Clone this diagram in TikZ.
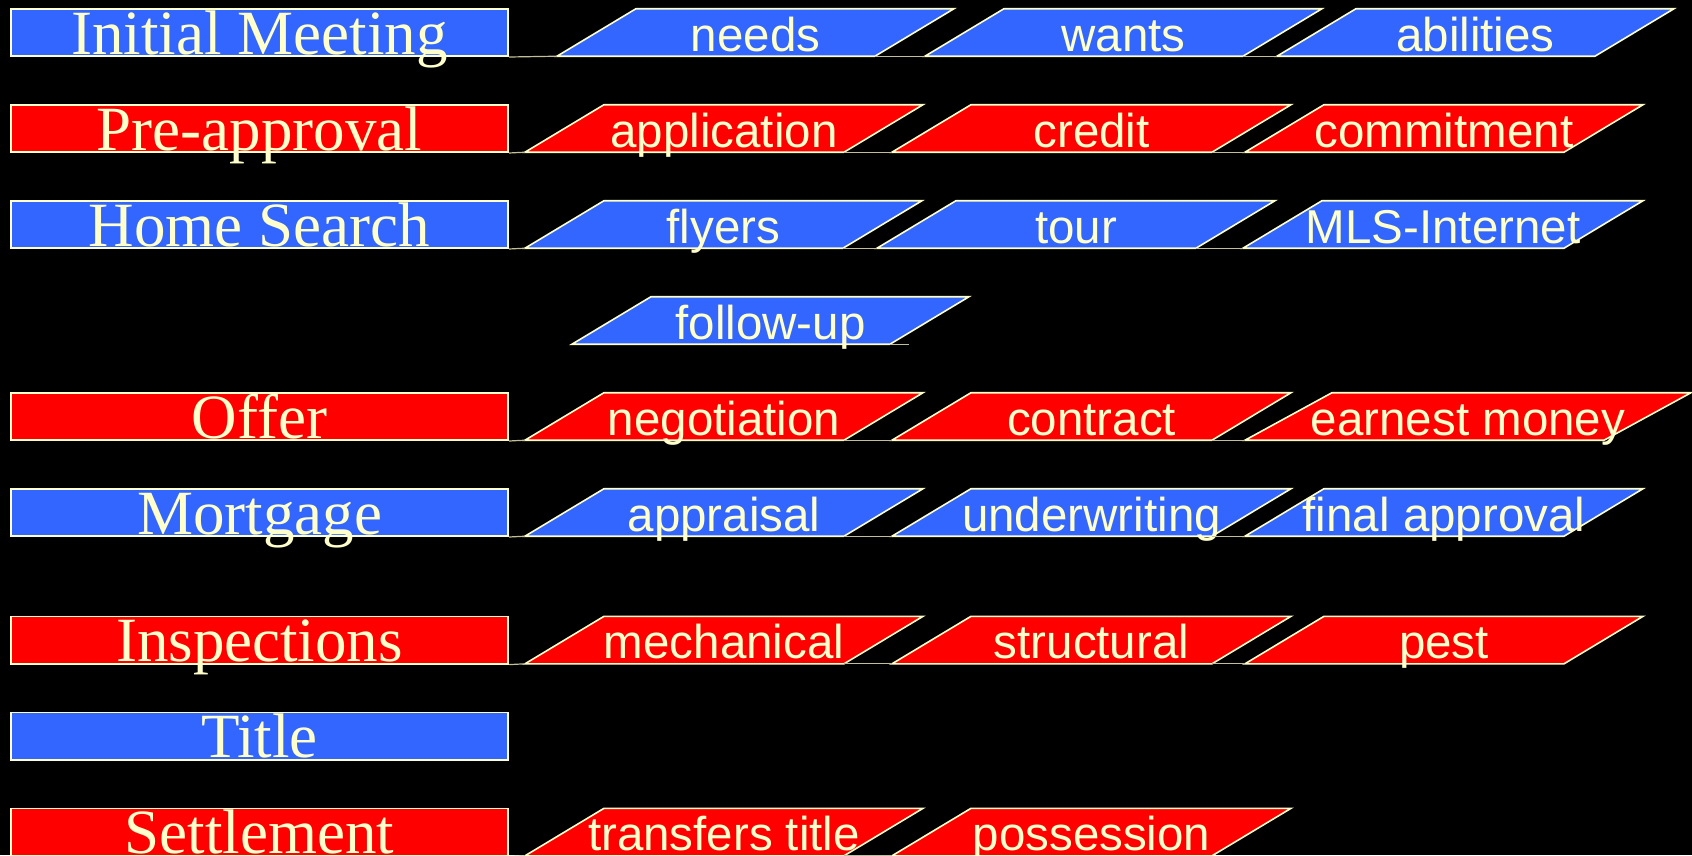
\documentclass[tikz,border=0pt]{standalone}
\usepackage{fontspec}
\setmainfont{Liberation Serif}
\setsansfont{Liberation Sans}
\definecolor{cream}{HTML}{FFFFCC}
\definecolor{stepblue}{HTML}{3366FF}
\definecolor{stepred}{HTML}{FF0000}

\tikzset{
  edge/.style={draw=cream, line width=1.6pt, line join=miter},
  stage/.style={draw=cream, line width=1.6pt, minimum width=497.5pt,
    minimum height=47.5pt, inner sep=0pt, text height=45.5pt, text depth=2pt,
    text=cream, font=\fontsize{63}{63}\selectfont},
  tasklabel/.style={anchor=base, inner sep=0pt, text=cream,
    font=\sffamily\fontsize{47.5}{47.5}\selectfont},
  link/.style={draw=cream!75!black, line width=1.2pt},
}

% slanted task box: [slant] name, bottom-left x, bottom y, bottom width, fill, text
\newcommand\task[7][79]{%
  \filldraw[edge, fill=#6] (#3,#4) coordinate (#2-bl) -- ++(#5,0) coordinate (#2-br)
    -- ++(#1,-47.5) -- ++(-#5,0) -- cycle;
  \node[tasklabel] (#2) at ({#3+#5/2+#1/2},{#4-5}) {#7};
}

\begin{document}
\begin{tikzpicture}[x=1pt, y=-1pt]
\useasboundingbox (0,0) rectangle (1692,855);
\fill[black] (0,0) rectangle (1692,855);

% stages
\node[stage, fill=stepblue] (initial) at (259.5,32.45)  {Initial Meeting};
\node[stage, fill=stepred]  (preapp)  at (259.5,128.45) {Pre-approval};
\node[stage, fill=stepblue] (search)  at (259.5,224.45) {Home Search};
\node[stage, fill=stepred]  (offer)   at (259.5,416.45) {Offer};
\node[stage, fill=stepblue] (mortg)   at (259.5,512.45) {Mortgage};
\node[stage, fill=stepred]  (inspect) at (259.5,640.05) {Inspections};
\node[stage, fill=stepblue] (title)   at (259.5,736.05) {Title};
\node[stage, fill=stepred]  (settle)  at (259.5,832.05) {Settlement};

% tasks
\task{needs}{557}{56.2}{318}{stepblue}{needs}
\task{wants}{925}{56.2}{318}{stepblue}{wants}
\task{abil}{1277}{56.2}{318}{stepblue}{abilities}

\task{appl}{525}{152.2}{319}{stepred}{application}
\task{credit}{892}{152.2}{320}{stepred}{credit}
\task{commit}{1245}{152.2}{319}{stepred}{commitment}

\task{flyers}{525}{248.2}{318}{stepblue}{flyers}
\task{tour}{877}{248.2}{319}{stepblue}{tour}
\task{mls}{1243}{248.2}{321}{stepblue}{MLS-Internet}

\task{follow}{572}{344.2}{318}{stepblue}{follow-up}

\task{negot}{525}{440.2}{319}{stepred}{negotiation}
\task{contract}{892}{440.2}{320}{stepred}{contract}
\task[87]{earnest}{1245}{440.2}{359}{stepred}{earnest money}

\task{apprais}{525}{536.2}{319}{stepblue}{appraisal}
\task{underw}{892}{536.2}{320}{stepblue}{underwriting}
\task{final}{1245}{536.2}{319}{stepblue}{final approval}

\task{mech}{525}{663.8}{319}{stepred}{mechanical}
\task{struct}{892}{663.8}{320}{stepred}{structural}
\task{pest}{1245}{663.8}{319}{stepred}{pest}

\task{transf}{525}{855.8}{319}{stepred}{transfers title}
\task{possess}{892}{855.8}{320}{stepred}{possession}

% baseline links
\coordinate (followend) at (909,344.2);
\draw[link] (initial.south east) -- (needs-bl);
\draw[link] (needs-br) -- (wants-bl);
\draw[link] (wants-br) -- (abil-bl);
\draw[link] (preapp.south east) -- (appl-bl);
\draw[link] (appl-br) -- (credit-bl);
\draw[link] (credit-br) -- (commit-bl);
\draw[link] (search.south east) -- (flyers-bl);
\draw[link] (flyers-br) -- (tour-bl);
\draw[link] (tour-br) -- (mls-bl);
\draw[link] (follow-br) -- (followend);
\draw[link] (offer.south east) -- (negot-bl);
\draw[link] (negot-br) -- (contract-bl);
\draw[link] (contract-br) -- (earnest-bl);
\draw[link] (mortg.south east) -- (apprais-bl);
\draw[link] (apprais-br) -- (underw-bl);
\draw[link] (underw-br) -- (final-bl);
\draw[link] (inspect.south east) -- (mech-bl);
\draw[link] (mech-br) -- (struct-bl);
\draw[link] (struct-br) -- (pest-bl);
\draw[link] (settle.south east) -- (transf-bl);
\draw[link] (transf-br) -- (possess-bl);
\end{tikzpicture}
\end{document}
